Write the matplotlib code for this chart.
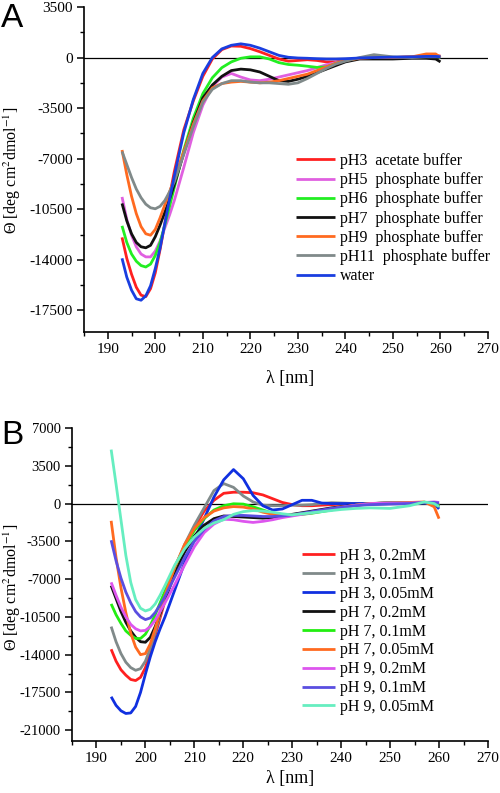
import matplotlib
matplotlib.use("Agg")
import matplotlib.pyplot as plt
from matplotlib.ticker import MultipleLocator

wl = [193, 194, 195, 196, 197, 198, 199, 200, 201, 202, 203, 204, 206, 208, 210,
      212, 214, 216, 218, 220, 222, 224, 226, 228, 230, 232, 234, 236, 238, 240,
      243, 246, 250, 254, 257, 259, 260]

# Panel A
a_labels = ["pH3  acetate buffer", "pH5  phosphate buffer", "pH6  phosphate buffer",
            "pH7  phosphate buffer", "pH9  phosphate buffer", "pH11  phosphate buffer", "water"]
a_colors = ["#ff2020", "#e060e0", "#22ee22", "#111111", "#ff6a20", "#808a8a", "#1a3ee0"]
a_ph3 = [-12450, -13900, -15000, -15900, -16450, -16550, -16000, -14900, -13300, -11500, -9600, -7900,
         -5000, -3000, -1300, -100, 550, 800, 780, 620, 400, 150, -100, -250, -200, -150, -200, -300,
         -300, -200, -50, 0, 0, 50, 100, 150, 100]
a_ph5 = [-9650, -11200, -12300, -13100, -13600, -13800, -13800, -13400, -12700, -11800, -10900, -9900,
         -7600, -5200, -3300, -2000, -1350, -1100, -1350, -1550, -1600, -1500, -1350, -1200, -1050, -900,
         -700, -500, -350, -200, -50, 0, 0, 50, 50, 100, 50]
a_ph6 = [-11650, -12800, -13600, -14100, -14400, -14500, -14300, -13700, -12800, -11600, -10300, -9000,
         -6400, -4200, -2500, -1400, -700, -300, -50, 50, 50, -100, -350, -480, -530, -600, -680, -650,
         -400, -200, -50, 0, 0, 30, 50, 50, 30]
a_ph7 = [-10100, -11300, -12200, -12800, -13100, -13170, -13000, -12400, -11600, -10700, -9800, -8800,
         -6600, -4500, -2800, -1900, -1300, -900, -800, -850, -1000, -1300, -1600, -1650, -1500, -1300,
         -1050, -800, -550, -300, -100, -100, -100, -50, -50, -100, -300]
a_ph9 = [-6400, -8100, -9600, -10800, -11700, -12200, -12300, -11900, -11100, -10200, -9300, -8400,
         -6500, -4600, -3000, -2100, -1800, -1700, -1650, -1700, -1750, -1700, -1600, -1450, -1300, -1150,
         -900, -650, -400, -200, -50, 0, 0, 50, 250, 250, 0]
a_ph11 = [-6500, -7400, -8300, -9100, -9700, -10150, -10400, -10470, -10300, -9900, -9300, -8600,
          -6700, -4800, -3100, -2200, -1800, -1600, -1600, -1700, -1750, -1750, -1800, -1850, -1750, -1450,
          -1100, -750, -450, -250, 0, 200, 50, 0, 50, 50, 50]
a_water = [-13900, -15200, -16100, -16700, -16800, -16500, -15800, -14600, -13200, -11500, -9800, -8200,
           -5200, -2900, -1100, 0, 600, 850, 950, 850, 650, 400, 150, 20, -30, -50, -80, -100, -100, -80,
           -30, 0, 30, 50, 80, 80, 50]
a_series = [a_ph3, a_ph5, a_ph6, a_ph7, a_ph9, a_ph11, a_water]

# Panel B
b_labels = ["pH 3, 0.2mM", "pH 3, 0.1mM", "pH 3, 0.05mM", "pH 7, 0.2mM", "pH 7, 0.1mM",
            "pH 7, 0.05mM", "pH 9, 0.2mM", "pH 9, 0.1mM", "pH 9, 0.05mM"]
b_colors = ["#ff2020", "#808a8a", "#1030e0", "#111111", "#22ee11", "#ff6a20", "#dd55ee", "#5a4ee0", "#66eec0"]
b_ph3_02 = [-13500, -14600, -15400, -15900, -16300, -16400, -16100, -15200, -13800, -12200, -10600, -9000,
            -6200, -4000, -2200, -700, 300, 950, 1050, 1050, 1000, 800, 450, 100, -100, -200, -200, -150,
            -100, -50, 0, 0, 50, 100, 100, 50, -100]
b_ph3_01 = [-11400, -12800, -13900, -14700, -15200, -15450, -15300, -14600, -13400, -11900, -10300, -8800,
            -6000, -3800, -2000, -400, 1200, 1850, 1500, 700, 150, -150, -200, -200, -150, -150, -100, 0,
            80, 50, 0, 0, 100, 100, 50, 0, -200]
b_ph3_005 = [-17900, -18700, -19200, -19450, -19400, -18800, -17500, -15800, -14200, -12800, -11600, -10500,
             -8000, -5500, -3300, -1400, 600, 2200, 3150, 2300, 750, -200, -600, -500, -100, 300, 300, 50,
             0, 0, 0, 0, 50, 50, 50, 0, -500]
b_ph7_02 = [-7600, -8800, -10000, -11000, -11800, -12400, -12800, -12850, -12400, -11400, -10200, -8900,
            -6500, -4500, -3000, -2000, -1400, -1150, -1200, -1250, -1300, -1350, -1300, -1200, -1000, -850,
            -700, -550, -400, -300, -150, -50, 0, 50, 100, 100, -300]
b_ph7_01 = [-9300, -10300, -11100, -11800, -12200, -12500, -12500, -12100, -11300, -10300, -9200, -8100,
            -5900, -4000, -2500, -1400, -600, -200, -20, -50, -300, -600, -900, -1050, -1050, -1000, -900,
            -750, -600, -400, -150, 0, 50, 100, 100, 50, -200]
b_ph7_005 = [-1600, -5000, -7800, -10100, -12000, -13300, -14000, -13900, -13000, -11600, -10000, -8500,
             -5900, -3800, -2300, -1300, -700, -400, -280, -330, -500, -800, -1000, -1100, -1050, -950,
             -800, -650, -500, -350, -150, 0, 50, 100, 150, -300, -1400]
b_ph9_02 = [-7300, -8500, -9600, -10500, -11200, -11600, -11800, -11750, -11400, -10800, -10000, -9200,
            -7500, -5700, -4000, -2700, -1900, -1450, -1500, -1650, -1750, -1650, -1500, -1300, -1150, -1000,
            -850, -700, -500, -350, -150, 0, 50, 50, 100, 150, 100]
b_ph9_01 = [-3400, -5300, -6900, -8200, -9200, -10000, -10500, -10750, -10600, -10100, -9400, -8600,
            -6800, -5000, -3500, -2400, -1600, -1200, -1100, -1100, -1150, -1200, -1200, -1150, -1050, -900,
            -750, -600, -450, -350, -200, -100, -50, 0, 100, 100, 50]
b_ph9_005 = [5000, 1800, -1500, -4800, -7300, -8900, -9700, -9950, -9800, -9300, -8500, -7600,
             -5700, -4200, -3100, -2300, -1800, -1500, -1000, -750, -650, -700, -800, -950, -1050, -950,
             -850, -750, -650, -550, -450, -400, -450, -200, 150, 0, -300]
b_series = [b_ph3_02, b_ph3_01, b_ph3_005, b_ph7_02, b_ph7_01, b_ph7_005, b_ph9_02, b_ph9_01, b_ph9_005]

a_yticks = [3500, 0, -3500, -7000, -10500, -14000, -17500]
b_yticks = [7000, 3500, 0, -3500, -7000, -10500, -14000, -17500, -21000]
xticks = [190, 200, 210, 220, 230, 240, 250, 260, 270]

plt.rcParams["axes.unicode_minus"] = False
plt.rcParams["mathtext.fontset"] = "stix"

W, H = 500, 793
fig = plt.figure(figsize=(W / 100, H / 100), dpi=100)
serif = "Liberation Serif"
ylabel = "Θ [deg cm$^{2}$dmol$^{-1}$]"


def px_rect(l, t, r, b):
    return [l / W, 1 - b / H, (r - l) / W, (b - t) / H]


def style(ax, yticks, ylim, xlab_y, ylab_y, ysize):
    ax.set_xlim(185, 270)
    ax.set_ylim(*ylim)
    for s in ["top", "right"]:
        ax.spines[s].set_visible(False)
    for s in ["left", "bottom"]:
        ax.spines[s].set_linewidth(1.2)
    ax.set_xticks(xticks)
    ax.set_yticks(yticks)
    ax.xaxis.set_minor_locator(MultipleLocator(5))
    ax.yaxis.set_minor_locator(MultipleLocator(1750))
    ax.tick_params(which="major", direction="out", length=5, width=1.1, labelsize=11, pad=3)
    ax.tick_params(axis="y", labelsize=ysize)
    ax.tick_params(which="minor", direction="out", length=3, width=1.0)
    for lab in ax.get_xticklabels() + ax.get_yticklabels():
        lab.set_fontfamily(serif)
    ax.axhline(0, color="black", lw=0.9, zorder=1)
    ax.set_xlabel("λ [nm]", fontfamily=serif, fontsize=13, va="center")
    ax.xaxis.set_label_coords(290 / W, 1 - xlab_y / H, transform=fig.transFigure)
    ax.set_ylabel(ylabel, fontfamily=serif, fontsize=11.5, va="center")
    ax.yaxis.set_label_coords(12 / W, 1 - ylab_y / H, transform=fig.transFigure)


axA = fig.add_axes(px_rect(84, 7, 488, 332))
for ys, c, lab in zip(a_series, a_colors, a_labels):
    axA.plot(wl, ys, color=c, lw=2.0, label=lab, solid_capstyle="butt")
style(axA, a_yticks, (-19000, 3500), 378, 170, 11)
axA.legend(loc="upper left", bbox_to_anchor=(296 / W, 1 - 153 / H), bbox_transform=fig.transFigure,
           frameon=False, prop={"family": serif, "size": 11.5}, handlelength=2.45, handletextpad=0.33,
           labelspacing=0.2, borderpad=0, borderaxespad=0)

axB = fig.add_axes(px_rect(72, 428, 488, 741))
for ys, c, lab in zip(b_series, b_colors, b_labels):
    axB.plot(wl, ys, color=c, lw=2.0, label=lab, solid_capstyle="butt")
style(axB, b_yticks, (-22000, 7000), 778, 587, 10.5)
axB.legend(loc="upper left", bbox_to_anchor=(302 / W, 1 - 548 / H), bbox_transform=fig.transFigure,
           frameon=False, prop={"family": serif, "size": 11.5}, handlelength=2.05, handletextpad=0.33,
           labelspacing=0.18, borderpad=0, borderaxespad=0)

fig.text(1 / W, 1 - 3 / H, "A", fontfamily="Liberation Sans", fontsize=24, va="top", ha="left")
fig.text(1 / W, 1 - 420 / H, "B", fontfamily="Liberation Sans", fontsize=24, va="top", ha="left")

fig.savefig("out.png", dpi=100)
